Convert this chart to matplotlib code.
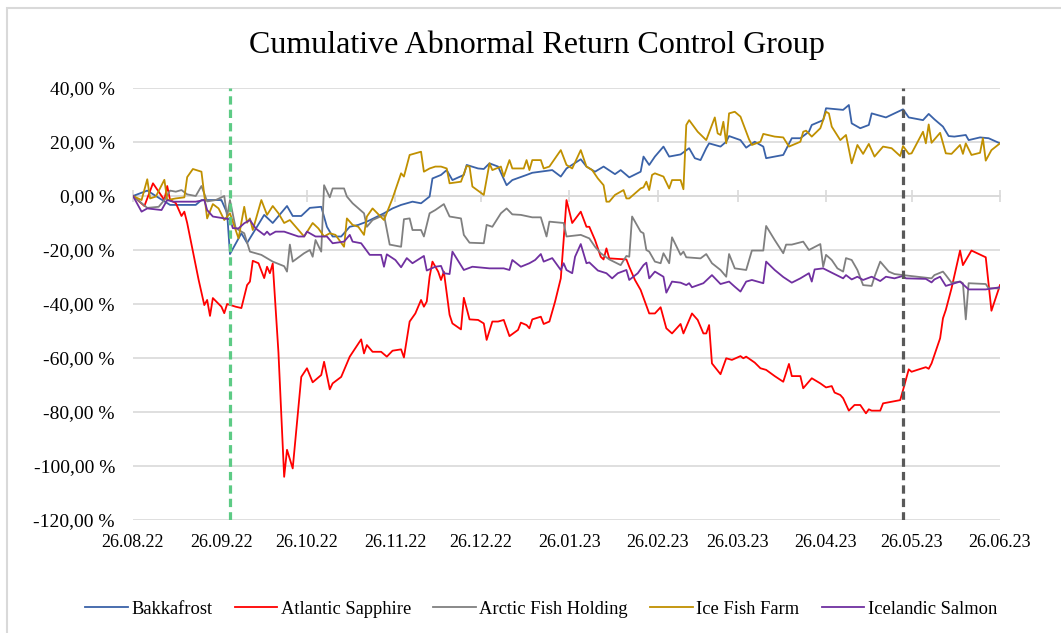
import pandas as pd
import matplotlib
matplotlib.use('Agg')
import matplotlib.pyplot as plt
from matplotlib.ticker import FuncFormatter
from matplotlib.patches import Rectangle

# day offsets counted from the first trading day, CAR in percent
start = pd.Timestamp('2022-08-26')
end = pd.Timestamp('2023-06-26')

bakkafrost_day = [0, 5, 13, 22, 24, 31, 33, 34, 38, 40, 46, 49, 54, 56, 59, 62, 66, 68, 70, 73,
                  76, 79, 82, 88, 91, 94, 98, 101, 104, 105, 108, 110, 112, 116, 117, 121, 123, 125, 128, 131,
                  133, 138, 140, 147, 150, 152, 157, 159, 162, 165, 169, 171, 174, 178, 179, 181, 183, 186, 188, 192,
                  195, 197, 199, 201, 202, 206, 208, 209, 213, 215, 218, 221, 222, 228, 231, 234, 237, 238, 242, 243,
                  249, 251, 252, 255, 258, 259, 264, 267, 270, 272, 277, 279, 281, 284, 286, 288, 292, 293, 297, 300,
                  304]
bakkafrost_car = [0, 2, -3.3, -3.3, -1.5, -1.5, -6.3, -21.5, -13.8, -17.4, -7, -10, -3.7, -7.4, -7.4, -4.4, -4, -11.4, -15, -15,
                  -11.4, -10.7, -9.5, -6.4, -4.6, -3.3, -2.1, -2.7, -0.2, 6.5, 7.8, 9.6, 5.9, 7.8, 11.5, 10.2, 10, 12.1, 10.9, 4,
                  5.9, 7.8, 8.6, 9.6, 7.2, 10.2, 13.6, 10.9, 9, 10.9, 8.1, 9.6, 6.9, 9, 14.6, 11.5, 14.6, 18.3, 14.6, 15.4,
                  17.7, 14, 13.3, 17.7, 19.5, 18.3, 20.1, 22.2, 20.7, 17.9, 20.1, 18.3, 14, 15.2, 21.4, 21.4, 23.8, 26.3, 28.1, 32.5,
                  31.9, 33.7, 26.9, 25.1, 26.3, 30.6, 29.1, 30.6, 32.1, 29.1, 28.1, 30.4, 28.4, 25.7, 22.2, 22, 22.6, 20.7, 21.7, 21.4,
                  19.5]

atlantic_day = [0, 4, 7, 9, 11, 12, 13, 15, 17, 18, 19, 23, 25, 26, 27, 28, 31, 32, 33, 36,
                38, 40, 41, 42, 44, 46, 47, 48, 49, 51, 53, 54, 56, 59, 61, 63, 66, 67, 69, 70,
                73, 76, 80, 81, 82, 84, 87, 89, 91, 94, 95, 97, 99, 101, 102, 103, 104, 105, 107, 108,
                109, 111, 112, 115, 116, 118, 121, 123, 124, 126, 128, 130, 132, 135, 136, 138, 139, 140, 143, 144,
                146, 148, 150, 151, 152, 154, 157, 159, 160, 162, 164, 165, 166, 167, 173, 174, 176, 178, 181, 183,
                185, 187, 189, 192, 193, 196, 198, 200, 201, 202, 203, 206, 208, 210, 213, 214, 215, 218, 220, 222,
                225, 228, 230, 231, 234, 235, 238, 241, 243, 245, 246, 248, 249, 251, 253, 255, 257, 258, 259, 262,
                263, 266, 269, 270, 272, 273, 275, 278, 279, 280, 281, 283, 284, 285, 287, 290, 291, 294, 296, 299,
                301, 304]
atlantic_car = [0, -3.7, 4.7, 1.6, -1.5, 3.7, -1.5, -2.6, -7.4, -5.8, -10, -31, -40.4, -38.5, -44.4, -37.8, -41, -43.4, -40, -41,
                -41.5, -33, -31.7, -24, -24.9, -30.4, -26.2, -28.6, -25, -58, -104, -94, -100.9, -67, -63.8, -69, -66.3, -61.4, -71.6, -69.4,
                -67, -59.5, -53.1, -58.3, -55.2, -57.7, -57.7, -59.5, -57.3, -56.8, -59.8, -46.5, -43.5, -38.5, -41, -39.1, -29.9, -24.3, -28, -31.1,
                -28, -44, -47.2, -49.4, -37.7, -45.7, -45.9, -47.2, -53.3, -46.5, -46.5, -45.9, -51.9, -49.6, -46.9, -47.8, -49, -45.7, -44.7, -47.4,
                -46.5, -39.1, -30.5, -16.3, -1.5, -10, -5.8, -11.4, -11.4, -16.3, -22.5, -23.5, -19.4, -23.1, -23.5, -26.2, -31.1, -34.8, -43.5, -43.5,
                -41.2, -49, -50.9, -47.4, -50.9, -43.5, -45.9, -50.9, -50.9, -47.8, -62, -66, -60.1, -60.7, -59.3, -60.1, -59.5, -61.7, -63.8, -64.4,
                -66.7, -68.8, -62.2, -66.7, -66.7, -71.2, -67.5, -69.4, -70.9, -70.4, -72.8, -73.7, -74.9, -79.5, -77.4, -77.4, -80.5, -79, -79.5, -79.5,
                -76.8, -76.2, -75.6, -71.9, -64.2, -65.1, -64.4, -63.4, -64, -62, -58.9, -52.7, -45.3, -42.2, -34.2, -20.2, -25.6, -20.2, -21.2, -22.7,
                -42.5, -33]

arctic_day = [0, 5, 9, 11, 13, 15, 17, 19, 22, 24, 26, 29, 32, 33, 34, 36, 39, 41, 45, 49,
              53, 54, 55, 56, 60, 62, 63, 64, 66, 67, 69, 70, 74, 75, 77, 81, 82, 84, 88, 90,
              94, 95, 97, 98, 101, 102, 104, 106, 109, 111, 115, 116, 118, 123, 124, 126, 129, 131, 133, 136,
              140, 143, 145, 146, 151, 152, 157, 160, 162, 164, 167, 171, 173, 174, 175, 178, 179, 180, 181, 183,
              185, 186, 188, 189, 192, 193, 194, 199, 201, 203, 206, 208, 209, 211, 215, 217, 221, 222, 225, 228,
              229, 231, 235, 237, 241, 242, 243, 245, 247, 249, 250, 252, 254, 256, 259, 260, 262, 265, 267, 270,
              275, 280, 281, 284, 285, 287, 290, 291, 292, 293, 299, 300, 304]
arctic_car = [0, -4.4, -4, -1.5, 2, 1.6, 2.2, 0.6, 0, 3.7, -2, -1.5, 0, -7.6, -1.5, -11.9, -13.8, -20.6, -21.8, -24.3,
              -26, -28, -18, -24.3, -21.2, -20, -22.5, -16.3, -20.6, 4, -0.5, 2.8, 2.8, -0.2, -2.7, -6.4, -11.4, -8.9, -7, -18,
              -18.8, -8.6, -8.3, -12.6, -12.6, -15, -6.4, -5.2, -3, -7.6, -8.3, -14.4, -17.3, -17.5, -10.7, -11.4, -6.4, -4.6, -6.8, -7,
              -7.9, -7.9, -15, -9.5, -10, -15, -14.4, -15.7, -18.8, -21.2, -23.5, -25.6, -22.2, -22.5, -7.6, -13.2, -13.8, -20, -20.6, -24.3,
              -24.9, -21.2, -24.9, -15.3, -21.8, -20.6, -22.7, -23.1, -21.5, -24.9, -27.4, -29.9, -21.5, -26.8, -27.4, -20.2, -20.2, -11.1, -16.3, -21.2,
              -18, -18, -16.9, -20, -17.8, -26.2, -21.8, -23.7, -26.8, -28, -23, -23.7, -27.4, -33, -33.3, -29.9, -24.3, -28, -28.9, -29.3,
              -29.9, -30.5, -29.3, -28, -29.3, -32.1, -31.7, -32.3, -45.7, -32.3, -32.6, -34.2, -34.2]

icefish_day = [0, 3, 5, 6, 8, 11, 12, 15, 18, 19, 21, 24, 26, 28, 30, 32, 34, 37, 39, 40,
               41, 42, 45, 47, 49, 51, 53, 55, 60, 63, 65, 67, 69, 71, 74, 75, 77, 79, 81, 82,
               84, 88, 91, 94, 95, 97, 101, 102, 104, 106, 108, 110, 111, 115, 117, 118, 119, 123, 125, 126,
               129, 130, 132, 133, 137, 138, 139, 140, 143, 144, 146, 150, 152, 154, 157, 159, 161, 163, 165, 166,
               167, 169, 172, 173, 174, 178, 179, 180, 181, 182, 183, 186, 188, 189, 192, 193, 194, 195, 198, 201,
               204, 205, 206, 207, 208, 209, 211, 213, 216, 217, 220, 221, 225, 228, 230, 234, 235, 236, 238, 241,
               243, 244, 245, 248, 250, 252, 254, 256, 258, 260, 263, 266, 269, 270, 272, 273, 277, 278, 279, 280,
               283, 285, 287, 290, 291, 292, 294, 297, 298, 299, 301, 304]
icefish_car = [0, -1.5, 6.2, -0.9, -0.2, 6, -1.5, -0.9, -0.5, 7, 10, 9, -8.3, -3, -4.6, -8.9, -6.4, -15.7, -4, -9.9,
               -8.3, -12.6, -1.5, -7, -3.7, -6.4, -10, -8.9, -15, -10, -12, -15, -13.8, -14.4, -18.8, -8.3, -10.7, -11.4, -14.4, -7.6,
               -4.6, -8.9, -0.9, 8.4, 7.2, 15.2, 16.4, 9, 10.2, 10.9, 10.9, 10.2, 4.7, 5.3, 11.1, 10.9, 3.5, 0.4, 12.1, 9.6,
               10.9, 7.2, 13.3, 10.2, 10.2, 13.3, 9.6, 13.3, 13.3, 10.2, 10.9, 17, 11.5, 10.2, 17, 10.9, 9.6, 6.5, 4, -2.1,
               -2.1, 0.4, 2.2, -0.9, -0.9, 2.8, 3.2, 5.3, 2.2, 7.8, 8.4, 7.2, 2.8, 5.9, 5.9, 2.5, 26.3, 28.1, 23.8, 20.7,
               29.1, 23.2, 22.6, 27.5, 19.5, 30.6, 31.2, 29.4, 21, 18.9, 20.1, 23, 22, 21.7, 18.3, 20.1, 23.8, 24.2, 22, 25.1,
               31.2, 30.6, 25.7, 20.7, 22.6, 12.1, 18.9, 15.6, 19.3, 14.6, 18.3, 17.7, 14.8, 18.5, 15.6, 15.8, 23.8, 19.5, 26.5, 19.7,
               23.4, 15.8, 15.6, 18.9, 15.6, 19.5, 15.2, 16, 21.4, 13.1, 17, 19.5]

icelandic_day = [0, 3, 5, 10, 12, 14, 18, 22, 25, 26, 28, 32, 34, 35, 37, 39, 41, 43, 46, 47,
                 48, 50, 53, 58, 60, 61, 64, 68, 70, 74, 76, 77, 80, 83, 87, 88, 89, 92, 94, 96,
                 98, 102, 103, 106, 108, 109, 111, 112, 116, 119, 125, 130, 132, 133, 136, 139, 141, 143, 144, 147,
                 150, 151, 152, 154, 155, 157, 159, 160, 163, 166, 168, 170, 173, 174, 177, 179, 180, 181, 183, 186,
                 187, 189, 192, 194, 195, 196, 200, 203, 206, 209, 211, 213, 215, 217, 221, 222, 225, 228, 231, 234,
                 237, 238, 239, 242, 245, 249, 250, 252, 254, 256, 259, 262, 264, 267, 270, 271, 278, 280, 281, 283,
                 285, 290, 293, 299, 304]
icelandic_car = [0, -5.8, -4.6, -5.2, -1.5, -2.1, -2.1, -2.1, -1.5, -5.2, -7.6, -8.3, -8.6, -11.9, -12, -10.1, -8.9, -12, -14.4, -13.2,
                 -14.4, -13.2, -13.2, -15, -15, -13.2, -15, -15, -17.5, -16.9, -14.4, -16.9, -17.5, -21.8, -21.8, -26.2, -21.6, -23.7, -26.4, -23,
                 -24.9, -22.2, -27.6, -26.2, -25.9, -28.6, -28.9, -20.6, -27.4, -26.2, -26.8, -26.8, -27.4, -23.7, -26.2, -24.9, -23.7, -21.5, -24.3, -23,
                 -27.4, -24.9, -27.4, -28.6, -22.5, -17.8, -24.9, -24.6, -27.6, -28.6, -30.5, -28.6, -27.4, -31.1, -28.6, -25.6, -24.7, -30.5, -28, -29.9,
                 -35.8, -31.7, -32.1, -33, -32.3, -33.8, -32.3, -29.3, -32.6, -31.7, -33.6, -35.4, -31.7, -31.1, -32.3, -24.3, -27.4, -30, -32.1, -30.5,
                 -28.6, -31.7, -27.2, -26.8, -28.4, -30.5, -29.3, -30.9, -29.9, -31.1, -29.9, -31.5, -29.9, -30.5, -29.6, -30.5, -30.7, -32, -30.9, -29.9,
                 -33.3, -31.7, -34.6, -34.6, -33.8]

names = ['Bakkafrost', 'Atlantic Sapphire', 'Arctic Fish Holding', 'Ice Fish Farm', 'Icelandic Salmon']
colors = ['#3A62A8', '#FF0000', '#808080', '#C09000', '#7030A0']
days = [bakkafrost_day, atlantic_day, arctic_day, icefish_day, icelandic_day]
cars = [bakkafrost_car, atlantic_car, arctic_car, icefish_car, icelandic_car]

tick_dates = ['2022-08-26', '2022-09-26', '2022-10-26', '2022-11-26', '2022-12-26', '2023-01-26',
              '2023-02-26', '2023-03-26', '2023-04-26', '2023-05-26', '2023-06-26']
event_dates = ['2022-09-29', '2023-05-23']
event_colors = ['#5DCB85', '#595959']

plt.rcParams['font.family'] = ['Liberation Serif', 'DejaVu Serif']

W, H = 1061, 633
fig = plt.figure(figsize=(W / 100, H / 100), dpi=100)
ax = fig.add_axes([133 / W, 1 - 520 / H, (1000 - 133) / W, (520 - 88) / H])

grid_col = '#d9d9d9'
for name, d, v, c in zip(names, days, cars, colors):
    x = start + pd.to_timedelta(d, unit='D')
    ax.plot(x, v, color=c, lw=1.3, label=name, zorder=2)

for d, c in zip(event_dates, event_colors):
    ax.axvline(pd.Timestamp(d), color=c, lw=2.3, ls=(0, (2.6, 1.6)), zorder=3)

ax.set_xlim(start, end)
ax.set_ylim(-120, 40)
ax.set_yticks(range(-120, 41, 20))
ax.yaxis.set_major_formatter(FuncFormatter(lambda v, p: f'{v:.2f}'.replace('.', ',') + ' %'))
ax.grid(axis='y', color=grid_col, lw=1.2)
ax.set_axisbelow(True)
for s in ax.spines.values():
    s.set_visible(False)

ticks = pd.to_datetime(tick_dates)
ax.set_xticks(ticks)
ax.set_xticklabels([t.strftime('%d.%m.%y') for t in ticks])
ax.tick_params(axis='x', length=0, pad=10, labelsize=13)
ax.tick_params(axis='y', length=0, pad=13, labelsize=14)
ax.patch.set_visible(False)

# horizontal axis line crossing at 0 with its tick marks
ax2 = ax.twiny()
ax2.set_zorder(ax.get_zorder() - 1)
ax2.set_xlim(ax.get_xlim())
ax2.set_xticks(ax.get_xticks())
ax2.xaxis.set_ticks_position('bottom')
ax2.spines['bottom'].set_position(('data', 0))
ax2.spines['bottom'].set_color(grid_col)
ax2.spines['bottom'].set_linewidth(1.2)
for k in ['top', 'left', 'right']:
    ax2.spines[k].set_visible(False)
ax2.tick_params(axis='x', direction='inout', length=8, width=1.2, color=grid_col, labelbottom=False, labeltop=False)

fig.text(537 / W, 1 - 45 / H, 'Cumulative Abnormal Return Control Group', ha='center', va='center', fontsize=23)

handles, labels = ax.get_legend_handles_labels()
fig.legend(handles, labels, loc='center', bbox_to_anchor=(541 / W, 1 - 609 / H), ncol=5, frameon=False,
           fontsize=13.3, handlelength=2.3, handletextpad=0.2, columnspacing=1.2)

fig.add_artist(Rectangle((7 / W, -0.05), 1.1, 1.05 - 8 / H, transform=fig.transFigure,
                         fill=False, edgecolor=grid_col, lw=1.5))

fig.savefig('out.png', dpi=100)
